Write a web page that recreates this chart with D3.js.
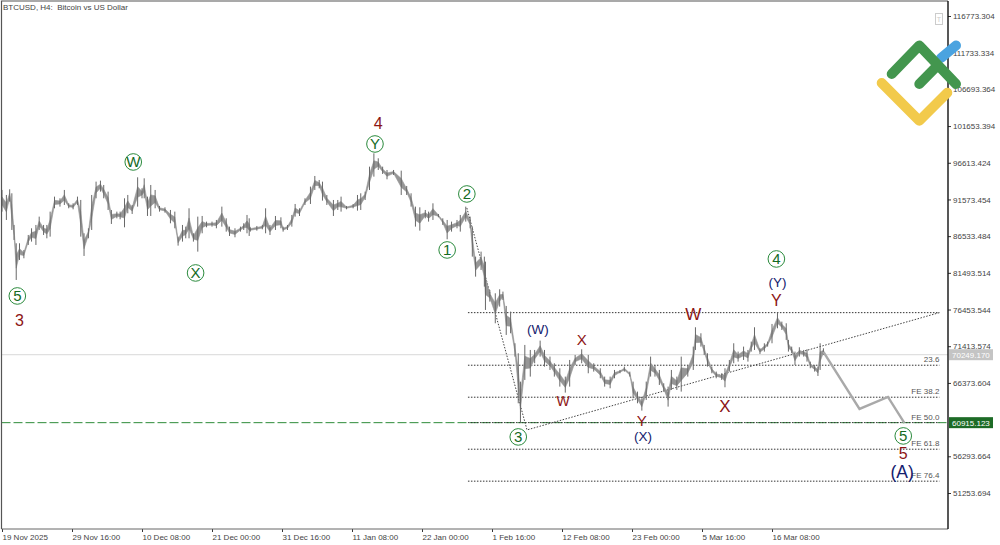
<!DOCTYPE html>
<html><head><meta charset="utf-8">
<script src="https://cdn.jsdelivr.net/npm/d3@7"></script>
<style>html,body{margin:0;padding:0;background:#fff;overflow:hidden}svg{display:block}text{font-family:"Liberation Sans",sans-serif}</style>
</head><body><svg id="c" width="1000" height="545"></svg>
<script>
const barIndex=[0,4,7,9,11,13,16,20,24,27,31,34,38,41,44,48,53,57,61,65,69,72,75,79,82,86,90,93,97,100,105,108,112,115,119,124,128,130,133,136,140,144,149,154,158,161,165,168,171,175,179,183,187,192,196,201,205,208,213,218,221,224,226,
227,233,238,241,245,250,255,257,261,265,268,272,277,282,286,290,293,297,303,307,310,315,321,325,328,332,336,340,344,348,352,358,365,370,374,378,382,387,390,394,399,403,407,411,416,419,424,428,430,433,438,441,
442,446,451,455,458,461,465,469,472,474,478,483,487,492,496,501,505,510,515,519,524,530,536,541,547,551,556,560,565,569,574,577,581,585,589,593,597,601,605,609,612,617,621,
627,632,634,639,642,645,649,653,658,661,665,669,673,678,682,685,688,693,697,700,704,709,713,717,719,722,725,729,733,736,739,743,746,748,751];
const highs=[92878,92191,92969,92420,88071,85553,85553,84637,86697,87613,88071,89215,88071,88071,89902,91962,91733,92878,91047,91047,91962,91504,86926,87613,92191,94022,94160,93564,92649,90131,89902,89902,91733,92191,90818,94617,93107,94480,91962,93564,92878,90680,90497,90131,89902,86468,88071,87842,90360,86926,89215,89307,88529,88529,88757,90589,88986,87842,87613,87842,88300,89444,88986,
87749,87933,88070,90359,88070,89306,89123,87841,88070,89443,90954,90359,91732,93335,94800,94250,94021,92190,91503,91503,91961,90680,90954,92190,92419,92648,96081,97913,97226,96081,95624,95624,95532,93426,92419,90588,90496,90130,89901,91046,89581,88986,88757,88528,88757,89443,90588,89214,87841,83721,84407,83721,
83035,79143,78686,79235,78915,76946,76168,71819,70445,66554,71590,70903,70903,72185,70903,69987,69072,68385,67241,69530,70217,70995,70217,69072,68385,67241,67241,68156,68156,68614,67927,66554,65180,64265,66554,69987,68843,68156,66325,65867,68156,67241,69987,
68843,71361,74017,73193,71590,70446,68615,67928,67699,68386,69530,71819,70675,71361,70904,72048,74017,71132,71819,72048,74475,76031,74795,74566,72277,71361,70675,71270,70904,70995,69301,68843,68615,71819,71133];
const lows=[89902,88757,91275,87384,86011,80517,83264,83493,85324,85782,85324,87384,86697,86239,86468,90360,90589,90818,90360,90222,90818,86468,83813,86239,87384,91733,92649,91733,90131,88208,88986,88849,87750,89673,89582,90589,91733,91733,89307,89307,90360,89902,89765,88300,87613,85232,85782,86239,86239,85782,84408,86926,87750,87842,87613,87842,87155,86560,86377,87155,87384,86926,86560,
87154,87291,87475,86925,86696,87383,87613,87154,87383,87841,89214,89306,90817,90954,92877,93106,91412,90817,89306,90130,89901,90222,90359,90039,90130,91503,92877,94708,95624,95074,94342,94937,92190,92190,90588,87841,87292,88986,88528,88757,89123,88070,86102,87154,87613,87154,88528,87613,83721,80974,81890,79601,
76397,77541,74565,76854,77770,72963,73192,69987,63578,60923,66783,67241,69072,69987,68614,68156,67241,65867,65043,65867,68843,69072,67698,67927,67011,65867,65639,67011,67698,67927,67241,64265,63578,62571,64036,67241,67241,66096,65181,63120,65409,65409,65181,
67241,68157,70904,71361,70217,68615,67699,67012,66784,65776,67928,69072,69301,69530,69301,70675,70904,70354,70675,71361,71819,73879,73650,72277,70675,70446,68843,69988,69988,69301,68386,67928,67333,68157,70217];

const priceTicks=[116773.304,111733.334,106693.364,101653.394,96613.424,91573.454,86533.484,81493.514,76453.544,71413.574,66373.604,56293.664,51253.694];
const timeTickBars=[0,64,128,192,256,320,384,448,512,576,640,704];
const timeTickLabels=["19 Nov 2025","29 Nov 16:00","10 Dec 08:00","21 Dec 00:00","31 Dec 16:00","11 Jan 08:00","22 Jan 00:00","1 Feb 16:00","12 Feb 08:00","23 Feb 00:00","5 Mar 16:00","16 Mar 08:00"];

const bidPrice=70249.170, supportPrice=60915.123;
const fibPrices=[76027,68804,64410,60923,57268,52879];
const fibLabels=["","23.6","FE 38.2","FE 50.0","FE 61.8","FE 76.4"];
const fibStartBar=426, fibEndBar=857;
const trendBars=[425,480,857];
const trendPrices=[90405,59919,76027];
const forecastBars=[751,784,810,825];
const forecastPrices=[70630,62803,64451,60880];

const circledLabels=["5","W","X","Y","1","2","3","4","5"];
const circledBars=[14,120,177,341,407,425,472,708,824];
const circledPrices=[78320,96723,81480,99195,84638,92329,58957,83402,59094];
const redLabels=["3","4","Y","W","X","W","Y","X","5"];
const redBars=[16,344,708,632,530,513,585,661,824];
const redPrices=[75024,102079,77771,75848,72278,63901,61154,63214,56760];
const redSizes=[16,16,16,17,15,14,15,17,16];
const navyLabels=["(Y)","(W)","(X)","(A)"];
const navyBars=[709,490,586,823];
const navyPrices=[80244,73789,59094,54150];
const navySizes=[13.5,13.5,13.5,17.5];

const svg=d3.select("#c");
const x=d3.scaleLinear().domain([0,64]).range([2,72]);
const y=d3.scaleLinear().domain([116773.304,51253.694]).range([16,493]);
const L=1.5,R=948,T=1,B=529;

svg.append("line").attr("x1",L).attr("x2",R).attr("y1",y(bidPrice)).attr("y2",y(bidPrice)).attr("stroke","#d8d8d8");
svg.append("line").attr("x1",L).attr("x2",R).attr("y1",y(supportPrice)).attr("y2",y(supportPrice)).attr("stroke","#2e8b3a").attr("stroke-width",1).attr("stroke-dasharray","9 3");

const gf=svg.append("g");
fibPrices.forEach((p,i)=>{
  gf.append("line").attr("x1",x(fibStartBar)).attr("x2",x(fibEndBar)).attr("y1",y(p)).attr("y2",y(p)).attr("stroke","#333").attr("stroke-width",1).attr("stroke-dasharray","1.5 1.5");
  if(fibLabels[i]) gf.append("text").attr("x",x(fibEndBar)).attr("y",y(p)-3).attr("text-anchor","end").attr("font-size",8).attr("fill","#555").text(fibLabels[i]);
});
const pts=(b,p)=>b.map((v,i)=>[x(v),y(p[i])]);
const ln=d3.line();
svg.append("path").attr("d",ln(pts(trendBars,trendPrices))).attr("fill","none").attr("stroke","#444").attr("stroke-dasharray","1.5 1.5");

const area=d3.area().x((d,i)=>x(barIndex[i])).y0((d,i)=>y(lows[i]+(highs[i]-lows[i])*0.32)).y1((d,i)=>y(highs[i]-(highs[i]-lows[i])*0.32));
svg.append("path").attr("d",area(barIndex)).attr("fill","#969696").attr("stroke","#969696").attr("stroke-width",0.6);
svg.append("g").selectAll("line").data(barIndex).join("line")
  .attr("x1",d=>x(d)).attr("x2",d=>x(d))
  .attr("y1",(d,i)=>y(highs[i])).attr("y2",(d,i)=>y(lows[i]))
  .attr("stroke","#686868").attr("stroke-width",1);

svg.append("path").attr("d",ln(pts(forecastBars,forecastPrices))).attr("fill","none").attr("stroke","#a9a9a9").attr("stroke-width",2.4);

// axes
const ay=d3.axisRight(y).tickValues(priceTicks).tickFormat(d3.format(".3f")).tickSize(3).tickSizeOuter(0);
const gy=svg.append("g").attr("transform",`translate(${R},0)`).call(ay);
gy.select(".domain").remove();
gy.selectAll("text").attr("x",5).attr("font-size",8).attr("fill","#444").attr("font-family","Liberation Sans");
gy.selectAll("line").attr("stroke","#333");
const ax=d3.axisBottom(x).tickValues(timeTickBars).tickFormat((d,i)=>timeTickLabels[i]).tickSize(3).tickSizeOuter(0);
const gx=svg.append("g").attr("transform",`translate(0,${B})`).call(ax);
gx.select(".domain").remove();
gx.selectAll("text").attr("text-anchor","start").attr("x",0).attr("y",5).attr("font-size",8).attr("fill","#444").attr("font-family","Liberation Sans");
gx.selectAll("line").attr("stroke","#333");

// frame
svg.append("path").attr("d",`M${L},${B}V${T}H${R}`).attr("fill","none").attr("stroke","#555").attr("stroke-width",1.2);
svg.append("line").attr("x1",L).attr("x2",R).attr("y1",B).attr("y2",B).attr("stroke","#666");
svg.append("line").attr("x1",R).attr("x2",R).attr("y1",T).attr("y2",B).attr("stroke","#111").attr("stroke-width",1.4);

svg.append("text").attr("x",3).attr("y",9.5).attr("font-size",8).attr("fill","#444").attr("xml:space","preserve").text("BTCUSD, H4:  Bitcoin vs US Dollar");
svg.append("rect").attr("x",935.5).attr("y",13.5).attr("width",7).attr("height",11).attr("fill","#fff").attr("stroke","#ccc");
svg.append("text").attr("x",939).attr("y",22).attr("text-anchor","middle").attr("font-size",7).attr("fill","#ccc").text("T");

function priceBox(p,bg,fg){
  svg.append("rect").attr("x",949).attr("y",y(p)-5.5).attr("width",44).attr("height",11).attr("fill",bg);
  svg.append("text").attr("x",952).attr("y",y(p)+3).attr("font-size",8).attr("fill",fg).text(d3.format(".3f")(p));
}
priceBox(bidPrice,"#c4c4c4","#fff");
priceBox(supportPrice,"#1d6b26","#fff");

// wave labels
circledLabels.forEach((t,i)=>{
  const cx=x(circledBars[i]),cy=y(circledPrices[i]);
  svg.append("circle").attr("cx",cx).attr("cy",cy).attr("r",8.3).attr("fill","#fff").attr("fill-opacity",0.6).attr("stroke","#2a8a3c").attr("stroke-width",1);
  svg.append("text").attr("x",cx).attr("y",cy).attr("dy","0.36em").attr("text-anchor","middle").attr("font-size",15).attr("fill","#146a24").text(t);
});
redLabels.forEach((t,i)=>svg.append("text").attr("x",x(redBars[i])).attr("y",y(redPrices[i])).attr("dy","0.36em").attr("text-anchor","middle").attr("font-size",redSizes[i]).attr("fill","#8c1414").text(t));
navyLabels.forEach((t,i)=>svg.append("text").attr("x",x(navyBars[i])).attr("y",y(navyPrices[i])).attr("dy","0.36em").attr("text-anchor","middle").attr("font-size",navySizes[i]).attr("fill","#14206e").text(t));

// logo
const logo=svg.append("g").attr("fill","none").attr("stroke-linecap","round").attr("stroke-linejoin","round").attr("stroke-width",10);
logo.append("path").attr("d","M941,58L956,45.5").attr("stroke","#4aa3e0");
logo.append("path").attr("d","M891.7,74L919.3,45.5L956,84M919.3,84L938,65").attr("stroke","#43964e");
logo.append("path").attr("d","M881.7,83L919.3,120.7L947.3,92.7").attr("stroke","#f2ca4b");
</script></body></html>
